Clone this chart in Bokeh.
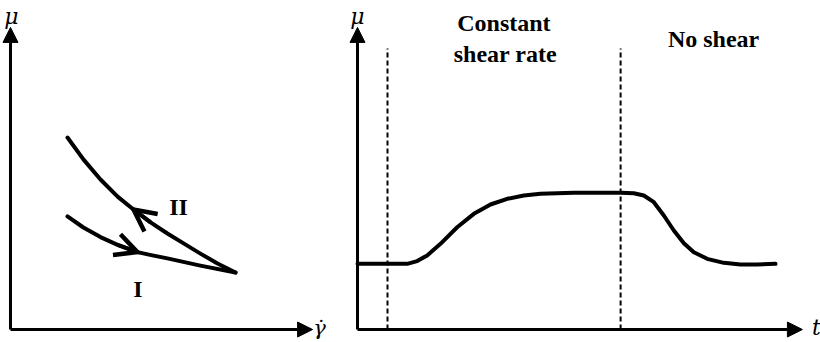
from bokeh.plotting import figure
from bokeh.layouts import row
from bokeh.models import Arrow, NormalHead, OpenHead, Range1d
from bokeh.core.properties import value
from bokeh.embed import file_html
from bokeh.resources import INLINE

# --- Hysteresis loop: viscosity vs shear rate (arbitrary units) ---
ramp_up_rate = [1.9, 2.43, 3.0, 3.57, 4.23, 4.73, 5.23, 6.33, 7.5]
ramp_up_visc = [3.77, 3.4, 3.08, 2.82, 2.58, 2.47, 2.37, 2.13, 1.9]
ramp_down_rate = [7.5, 6.9, 6.33, 5.77, 5.23, 4.67, 4.1, 3.57, 3.0, 2.43, 1.9]
ramp_down_visc = [1.9, 2.2, 2.53, 2.87, 3.2, 3.57, 4.0, 4.43, 5.0, 5.67, 6.4]
branch_labels = ["I", "II"]

# --- Viscosity vs time: rest, constant shear, then no shear ---
time = [0.0, 1.0, 1.656, 1.989, 2.322, 2.766, 3.322, 3.878, 4.433, 4.989, 5.544, 6.1,
        7.211, 8.767, 9.211, 9.544, 9.878, 10.211, 10.544, 10.878, 11.211, 11.656,
        12.211, 12.767, 13.322, 13.933]
viscosity = [2.19, 2.19, 2.19, 2.28, 2.47, 2.856, 3.41, 3.856, 4.167, 4.356, 4.467, 4.522,
             4.556, 4.556, 4.544, 4.467, 4.244, 3.8, 3.3, 2.878, 2.578, 2.356,
             2.222, 2.167, 2.167, 2.19]
phase_bounds = [1.0, 8.77]
phase_labels = ["Constant", "shear rate", "No shear"]

BLACK = "#000000"
SERIF = value("Liberation Serif")
MATH = value("DejaVu Serif")
Y_TOP = 10.07      # height of the axis arrows
X_TIP_L = 10.07    # length of the shear-rate axis
X_TIP_R = 14.83    # length of the time axis


def blank_fig(width, x0, x1):
    p = figure(width=width, height=342, output_backend="svg", toolbar_location=None,
               x_axis_location=None, y_axis_location=None,
               x_range=Range1d(x0, x1), y_range=Range1d(-0.433, 10.967),
               min_border=0, outline_line_color=None, background_fill_color="white",
               border_fill_color="white")
    p.grid.visible = False
    return p


def add_axes(p, x_tip):
    for xe, ye in [(0, Y_TOP), (x_tip, 0)]:
        p.add_layout(Arrow(end=NormalHead(size=15, fill_color=BLACK, line_color=BLACK, line_width=1),
                           x_start=0, y_start=0, x_end=xe, y_end=ye,
                           line_width=3, line_color=BLACK))


def axis_label(p, x, y, txt, size):
    p.text(x=[x], y=[y], text=[txt], text_font=MATH, text_font_style="italic",
           text_font_size=size, text_align="center", text_baseline="middle",
           text_color=BLACK)


def curve_arrow(p, xs, ys, i_from, i_to):
    p.add_layout(Arrow(end=OpenHead(size=22, line_width=4.5, line_color=BLACK,
                                    line_join="miter"),
                       x_start=xs[i_from], y_start=ys[i_from],
                       x_end=xs[i_to], y_end=ys[i_to],
                       line_width=4, line_color=BLACK))


# Left panel: hysteresis loop
left = blank_fig(340, -0.333, 11.0)
add_axes(left, X_TIP_L)
for xs, ys in [(ramp_up_rate, ramp_up_visc), (ramp_down_rate, ramp_down_visc)]:
    left.line(xs, ys, line_width=4, line_color=BLACK, line_join="round", line_cap="round")
curve_arrow(left, ramp_up_rate, ramp_up_visc, 3, 4)
curve_arrow(left, ramp_down_rate, ramp_down_visc, 5, 6)
left.text(x=[4.25, 5.6], y=[1.34, 4.07], text=branch_labels, text_font=SERIF,
          text_font_style="bold", text_font_size="24px", text_align="center",
          text_baseline="middle", text_color=BLACK)
axis_label(left, 0.03, 10.42, "μ", "22px")
axis_label(left, 10.3, 0.05, "γ̇", "21px")

# Right panel: viscosity over time
right = blank_fig(480, -0.567, 15.433)
add_axes(right, X_TIP_R)
for tb in phase_bounds:
    right.segment(x0=[tb], y0=[0], x1=[tb], y1=[9.37], line_width=2,
                  line_color=BLACK, line_dash="5 3")
right.line(time, viscosity, line_width=4, line_color=BLACK, line_join="round", line_cap="round")
right.text(x=[4.88, 4.93, 11.87], y=[10.22, 9.18, 9.7], text=phase_labels, text_font=SERIF,
           text_font_style="bold", text_font_size="24px", text_align="center",
           text_baseline="middle", text_color=BLACK)
axis_label(right, 0.0, 10.42, "μ", "22px")
axis_label(right, 15.3, 0.08, "t", "22px")

layout = row(left, right, spacing=0)
open("out.html", "w").write(file_html(layout, INLINE))
